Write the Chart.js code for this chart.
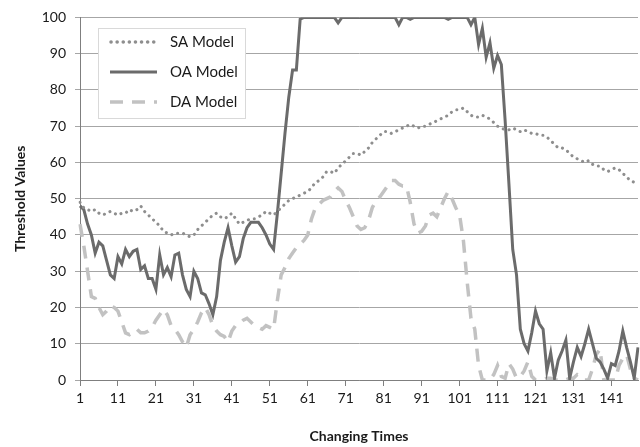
<!DOCTYPE html>
<html>
<head>
<meta charset="utf-8">
<script src="https://cdn.jsdelivr.net/npm/chart.js@4.4.0/dist/chart.umd.min.js"></script>
<style>
  html, body { margin: 0; padding: 0; background: #fff; }
  #wrap { width: 640px; height: 447px; position: relative; }
</style>
</head>
<body>
<div id="wrap"><canvas id="grafico"></canvas></div>
<script>
// changing times 1..148
var tiempos = [];
for (let i = 1; i <= 148; i++) tiempos.push(String(i));

var serieSA = [
    49, 47.5, 47, 46.5, 47, 46, 45.5, 46, 46.5, 46,
    45.5, 46, 46, 47, 46.5, 47, 48, 46.5, 45.5, 44.5,
    43.5, 42.5, 41, 40.5, 40, 40.5, 40.5, 40.5, 40, 39.5,
    40, 41.5, 42.5, 43.5, 44.5, 45.5, 46, 45, 44.5, 45,
    46, 44.5, 43, 43.5, 44, 44.5, 44.5, 45, 45.5, 46.5,
    46, 45.5, 46.5, 47.5, 48.5, 49.5, 50, 50.5, 51, 51.5,
    52, 53, 54.5, 55, 56, 57.5, 57.5, 57, 58.5, 59.5,
    60.5, 61.5, 62.5, 62.5, 62, 63, 64, 65.5, 66.5, 67.5,
    68.5, 68.5, 68, 68.5, 69, 69.5, 70, 70.5, 70, 69.5,
    70, 70, 70.5, 71, 71.5, 72, 72.5, 73, 74, 74.5,
    74.5, 75, 74, 73, 72.5, 72.5, 73, 72.5, 72, 71,
    70, 69.5, 69, 69, 69.5, 69, 68.5, 69, 68.5, 68,
    68, 67.5, 67.5, 67, 66, 65, 64, 64, 63.5, 62.5,
    61.5, 61, 60.5, 60, 60.5, 59.5, 59, 59, 58, 57.5,
    58, 58.5, 58, 57, 56, 55, 54.5, 54.5
];

var serieOA = [
    48, 47, 43, 40, 35, 38, 37, 33, 29, 28,
    34, 32, 36, 34, 35.5, 36, 30.5, 31.5, 28, 28,
    25, 34.5, 29, 31, 28.5, 34.5, 35, 29, 25, 23,
    30, 28, 24, 23.5, 21, 18, 23, 33, 38, 42,
    37, 32.5, 34, 39, 42, 43.5, 43.5, 43.5, 42, 40,
    37.5, 36, 46, 57, 68, 78, 85.5, 85.5, 99.5, 100,
    100, 100, 100, 100, 100, 100, 100, 100, 98.5, 100,
    100, 100, 100, 100, 100, 100, 100, 100, 100, 100,
    100, 100, 100, 100, 98, 100, 100, 99.5, 100, 100,
    100, 100, 100, 100, 100, 100, 100, 99.5, 100, 100,
    100, 100, 100, 98, 100, 92.5, 97, 89, 93, 86,
    89.5, 87, 71.5, 54, 36, 29, 14, 10, 8, 13,
    19, 15.5, 14, 2.5, 7.5, 0.5, 5.5, 8, 11, 0.5,
    5, 9, 6.5, 10, 14, 10, 6, 5, 3, 0.5,
    4.5, 4, 8, 13.5, 9, 5, 0.5, 9
];

var serieDA = [
    43, 37, 30, 23, 22.5, 20, 18, 19, 20.5, 20,
    19, 16, 13, 12.5, 13.5, 14, 13, 13, 13.5, 14.5,
    16.5, 18, 19.5, 18, 15, 14, 12.5, 10.5, 9, 12.5,
    14, 16, 18.5, 20, 18, 15, 13.5, 12.5, 12, 10.5,
    13.5, 15, 15.5, 16.5, 17, 16, 15, 14.5, 14, 15,
    14.5, 14, 22, 29, 31, 33.5, 35, 36.5, 37.5, 38.5,
    40, 44.5, 47.5, 48.5, 49.5, 50, 50.5, 52, 53, 52,
    49.5, 47.5, 45, 42.5, 41.5, 42, 44, 47.5, 49.5, 50.5,
    52, 53.5, 55, 55, 54, 53.5, 53.5, 49, 43, 40.5,
    41, 42.5, 45.5, 46, 45, 47.5, 50, 52, 50, 47.5,
    45.5, 38.5, 27, 17, 14, 4, 0, 0, 0, 1.5,
    4, 1, 0.5, 4.5, 3, 0.5, 1, 2.5, 5, 1,
    0, 0, 0, 0.5, 0.5, 0, 0, 0, 0, 0.5,
    0.5, 1.5, 1, 0, 0, 3, 7, 8.5, 0, 0,
    0, 0, 4, 6, 7, 3, 0.5, 0
];

var nombres = ['SA Model', 'OA Model', 'DA Model'];
var colores = ['#8e8e8e', '#6b6b6b', '#c2c2c2'];
var guiones = [[0.1, 6], [], [13, 9]];
var fuente = 'Lato, "Open Sans", sans-serif';

// leyenda dentro del grafico
var leyenda = {
    id: 'leyenda',
    afterDraw: function (chart) {
        var ctx = chart.ctx;
        ctx.save();
        ctx.fillStyle = '#ffffff';
        ctx.fillRect(98, 28, 147, 90);
        ctx.strokeStyle = '#d9d9d9';
        ctx.lineWidth = 1;
        ctx.strokeRect(98.5, 28.5, 147, 90);
        for (let k = 0; k < 3; k++) {
            let y = 42 + k * 30;
            ctx.beginPath();
            ctx.strokeStyle = colores[k];
            ctx.lineWidth = k == 1 ? 3 : 3.5;
            ctx.lineCap = k == 0 ? 'round' : 'butt';
            ctx.setLineDash(guiones[k]);
            ctx.moveTo(k == 0 ? 111 : 110, y);
            ctx.lineTo(157, y);
            ctx.stroke();
            ctx.setLineDash([]);
            ctx.fillStyle = '#1a1a1a';
            ctx.font = '15px ' + fuente;
            ctx.textBaseline = 'middle';
            ctx.fillText(nombres[k], 170, y);
        }
        ctx.restore();
    }
};

var ctx = document.getElementById('grafico').getContext('2d');
var myLineChart = new Chart(ctx, {
    type: 'line',
    data: {
        labels: tiempos,
        datasets: [
            { label: nombres[0], data: serieSA, borderColor: colores[0], borderWidth: 3, borderDash: guiones[0], borderCapStyle: 'round', pointRadius: 0, tension: 0 },
            { label: nombres[1], data: serieOA, borderColor: colores[1], borderWidth: 3, pointRadius: 0, tension: 0 },
            { label: nombres[2], data: serieDA, borderColor: colores[2], borderWidth: 3.5, borderDash: guiones[2], pointRadius: 0, tension: 0 }
        ]
    },
    options: {
        responsive: true,
        maintainAspectRatio: false,
        animation: false,
        layout: { padding: { top: 12, right: 2, left: 0, bottom: 0 } },
        plugins: { legend: { display: false }, tooltip: { enabled: false } },
        scales: {
            x: {
                offset: false,
                grid: { drawOnChartArea: false, tickLength: 6, color: '#7f7f7f' },
                border: { color: '#7f7f7f', width: 1 },
                ticks: {
                    autoSkip: false, maxRotation: 0, padding: 4, color: '#1a1a1a',
                    font: { family: fuente, size: 14 },
                    callback: function (val, index) {
                        return index % 10 === 0 ? this.getLabelForValue(val) : null;
                    }
                },
                title: { display: true, text: 'Changing Times', color: '#1a1a1a', font: { family: fuente, size: 14, weight: 'bold' }, padding: { top: 4, bottom: 2 } },
                afterFit: function (scale) { scale.height = 67; }
            },
            y: {
                min: 0, max: 100,
                grid: { color: '#a6a6a6', tickLength: 5 },
                border: { color: '#7f7f7f', width: 1 },
                ticks: { stepSize: 10, padding: 9, color: '#1a1a1a', font: { family: fuente, size: 14 } },
                title: { display: true, text: 'Threshold Values', color: '#1a1a1a', font: { family: fuente, size: 14, weight: 'bold' }, padding: { top: 12, bottom: 0 } },
                afterFit: function (scale) { scale.width = 80; }
            }
        }
    },
    plugins: [leyenda]
});
</script>
</body>
</html>
